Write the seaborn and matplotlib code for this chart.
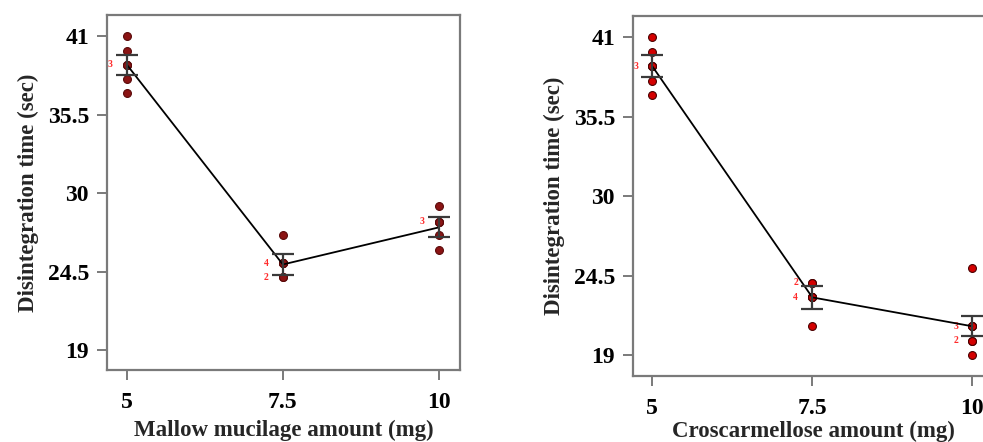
import matplotlib
matplotlib.use("Agg")
from matplotlib import pyplot as plt
import seaborn as sns
import pandas as pd
from collections import Counter

# dose levels (mg)
doses = [5, 7.5, 10]

# individual disintegration times (sec)
mallow_x = [5] * 7 + [7.5] * 7 + [10] * 6
mallow_y = [41, 40, 39, 39, 39, 38, 37,
            27.1, 25.1, 25.1, 25.1, 25.1, 24.1, 24.1,
            29.1, 28.0, 28.0, 28.0, 27.1, 26.0]
mallow_mean = [39.0, 25.0, 27.6]
mallow_err = [0.7, 0.75, 0.7]

cros_x = [5] * 7 + [7.5] * 7 + [10] * 7
cros_y = [41, 40, 39, 39, 39, 38, 37,
          24, 24, 23, 23, 23, 23, 21,
          25, 21, 21, 21, 20, 20, 19]
cros_mean = [39.0, 23.0, 21.0]
cros_err = [0.75, 0.77, 0.7]

yticks = [19, 24.5, 30, 35.5, 41]
ytick_labels = ['19', '24.5', '30', '35.5', '41']
xtick_labels = ['5', '7.5', '10']

sns.set_style("white")
plt.rcParams['font.family'] = ['Liberation Serif', 'DejaVu Serif']
plt.rcParams['font.weight'] = 'bold'

fig = plt.figure(figsize=(9.83, 4.42), dpi=100)
ax1 = fig.add_axes([0.1089, 0.163, 0.359, 0.803])
ax2 = fig.add_axes([0.644, 0.149, 0.368, 0.814])


def draw_panel(ax, xs, ys, means, errs, dot_color, edge_color, xlabel, ylim, xlim, xlabelpad):
    df = pd.DataFrame({'dose': xs, 'time': ys})
    sns.scatterplot(data=df, x='dose', y='time', ax=ax, color=dot_color, s=32,
                    edgecolor=edge_color, linewidth=0.8, zorder=3, legend=False)
    sns.lineplot(x=doses, y=means, ax=ax, color='black', linewidth=1.3,
                 estimator=None, zorder=4)
    ax.errorbar(doses, means, yerr=errs, fmt='none', ecolor='#3a3a3a',
                elinewidth=1.6, capsize=8, capthick=1.6, zorder=5)
    # count labels for overlapping points
    for (x, y), n in Counter(zip(xs, ys)).items():
        if n > 1:
            ax.annotate(str(n), (x, y), xytext=(-12, 0), textcoords='offset points',
                        color='#ff2a2a', fontsize=7, ha='center', va='center')
    ax.set_xlim(*xlim)
    ax.set_ylim(*ylim)
    ax.set_xticks(doses)
    ax.set_xticklabels(xtick_labels, fontsize=17, fontweight='bold')
    ax.set_yticks(yticks)
    ax.set_yticklabels(ytick_labels, fontsize=17, fontweight='bold')
    ax.set_xlabel(xlabel, fontsize=16.5, fontweight='bold', labelpad=xlabelpad)
    ax.set_ylabel('Disintegration time (sec)', fontsize=16.5, fontweight='bold', labelpad=6)
    for sp in ax.spines.values():
        sp.set_color('#7a7a7a')
        sp.set_linewidth(1.6)
    ax.tick_params(axis='both', direction='out', length=7, width=1.4,
                   color='#7a7a7a', labelcolor='black', bottom=True, left=True)
    ax.tick_params(axis='x', pad=9)
    ax.tick_params(axis='y', pad=6)


draw_panel(ax1, mallow_x, mallow_y, mallow_mean, mallow_err, '#8b1414', '#5a0a0a',
           'Mallow mucilage amount (mg)', (17.6, 42.5), (4.68, 10.34), 5)
draw_panel(ax2, cros_x, cros_y, cros_mean, cros_err, '#d40000', '#4a0000',
           'Croscarmellose amount (mg)', (17.55, 42.45), (4.70, 10.35), 1)

plt.savefig("out.png", dpi=100)
